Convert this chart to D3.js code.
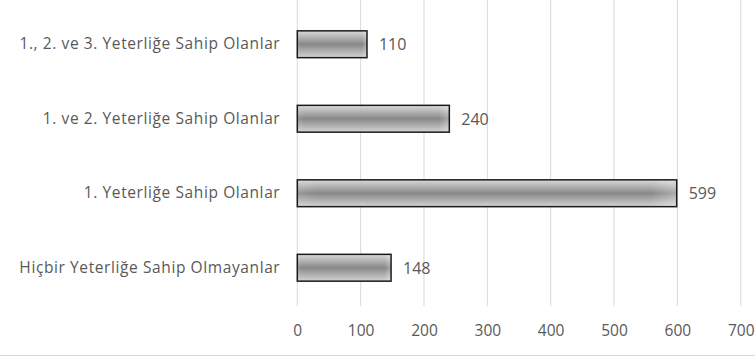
<!DOCTYPE html>
<html>
<head>
<meta charset="utf-8">
<script src="https://cdn.jsdelivr.net/npm/d3@7"></script>
<style>
  html, body { margin: 0; padding: 0; background: #fff; }
  svg { display: block; }
  text { font-family: "Open Sans", sans-serif; fill: #595959; }
</style>
</head>
<body>
<svg id="chart" width="755" height="356"></svg>
<script>
// Categories (top to bottom) and their counts
const categories = [
  "1., 2. ve 3. Yeterliğe Sahip Olanlar",
  "1. ve 2. Yeterliğe Sahip Olanlar",
  "1. Yeterliğe Sahip Olanlar",
  "Hiçbir Yeterliğe Sahip Olmayanlar"
];
const values = [110, 240, 599, 148];
const xTicks = [0, 100, 200, 300, 400, 500, 600, 700];

const W = 755, H = 356;
const plot = { left: 297.3, right: 740.7, top: 7, bottom: 305 };

const svg = d3.select("#chart");

const x = d3.scaleLinear().domain([0, 700]).range([plot.left, plot.right]);
const y = d3.scaleBand().domain(categories).range([plot.top, plot.bottom])
  .paddingInner(0.64).paddingOuter(0.32);

// Cylinder-like shading for the bars
const defs = svg.append("defs");
const grad = defs.append("linearGradient").attr("id", "barShade")
  .attr("x1", 0).attr("y1", 0).attr("x2", 0).attr("y2", 1);
[[0, "#dadada"], [0.5, "#888888"], [1, "#d4d4d4"]].forEach(([o, c]) =>
  grad.append("stop").attr("offset", o).attr("stop-color", c));
const edge = defs.append("linearGradient").attr("id", "endGlow")
  .attr("x1", 0).attr("y1", 0).attr("x2", 1).attr("y2", 0);
[[0, "#fff", 0.12], [0.05, "#fff", 0], [0.93, "#fff", 0], [1, "#fff", 0.3]].forEach(([o, c, a]) =>
  edge.append("stop").attr("offset", o).attr("stop-color", c).attr("stop-opacity", a));

// Vertical gridlines
svg.append("g").selectAll("line").data(xTicks).join("line")
  .attr("x1", d => x(d)).attr("x2", d => x(d))
  .attr("y1", 0).attr("y2", 306)
  .attr("stroke", "#d9d9d9").attr("stroke-width", 1);

// Bottom axis tick labels
const xAxis = d3.axisBottom(x).tickValues(xTicks).tickSize(0).tickPadding(0);
const gx = svg.append("g").attr("transform", "translate(0,324.5)").call(xAxis);
gx.select(".domain").remove();
gx.selectAll("text").style("font-family", "'Open Sans', sans-serif")
  .style("font-size", "15.5px").attr("fill", "#595959").attr("dy", "0.71em");

// Category labels
const yAxis = d3.axisLeft(y).tickSize(0).tickPadding(17);
const gy = svg.append("g").attr("transform", `translate(${plot.left},0)`).call(yAxis);
gy.select(".domain").remove();
gy.selectAll("text").style("font-family", "'Open Sans', sans-serif")
  .style("font-size", "15.5px").style("letter-spacing", "0.6px").attr("fill", "#595959");

// Bars
const bars = svg.append("g");
bars.selectAll("rect.bar").data(values).join("rect").attr("class", "bar")
  .attr("x", x(0)).attr("y", (d, i) => y(categories[i]))
  .attr("width", d => x(d) - x(0)).attr("height", y.bandwidth())
  .attr("fill", "url(#barShade)");
bars.selectAll("rect.glow").data(values).join("rect").attr("class", "glow")
  .attr("x", x(0)).attr("y", (d, i) => y(categories[i]))
  .attr("width", d => x(d) - x(0)).attr("height", y.bandwidth())
  .attr("fill", "url(#endGlow)");
bars.selectAll("rect.outline").data(values).join("rect").attr("class", "outline")
  .attr("x", x(0)).attr("y", (d, i) => y(categories[i]))
  .attr("width", d => x(d) - x(0)).attr("height", y.bandwidth())
  .attr("fill", "none").attr("stroke", "#1a1a1a").attr("stroke-width", 1.5);

// Value labels
svg.append("g").selectAll("text").data(values).join("text")
  .attr("x", d => x(d) + 12)
  .attr("y", (d, i) => y(categories[i]) + y.bandwidth() / 2)
  .attr("dy", "0.36em")
  .style("font-size", "16px")
  .text(d => d);

// Chart frame bottom edge
svg.append("line").attr("x1", 0).attr("x2", W).attr("y1", 355.5).attr("y2", 355.5)
  .attr("stroke", "#d9d9d9");
</script>
</body>
</html>
